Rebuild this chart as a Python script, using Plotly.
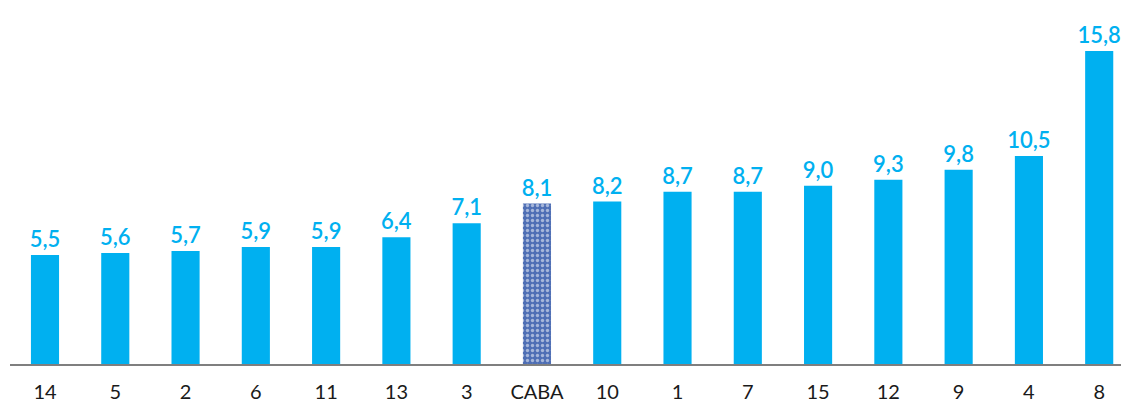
import plotly.graph_objects as go

categories = ["14", "5", "2", "6", "11", "13", "3", "CABA", "10", "1", "7", "15", "12", "9", "4", "8"]
values = [5.5, 5.6, 5.7, 5.9, 5.9, 6.4, 7.1, 8.1, 8.2, 8.7, 8.7, 9.0, 9.3, 9.8, 10.5, 15.8]
labels = [f"{v:.1f}".replace(".", ",") for v in values]

BLUE = "#00B0F0"
colors = ["#4F6FB5" if c == "CABA" else BLUE for c in categories]
shapes = ["." if c == "CABA" else "" for c in categories]

fig = go.Figure(go.Bar(
    x=list(range(len(categories))),
    y=values,
    text=labels,
    textposition="outside",
    constraintext="none",
    textfont=dict(family="Lato", size=22, color=BLUE, weight=600),
    marker=dict(
        color=colors,
        line=dict(width=0),
        pattern=dict(shape=shapes, fgcolor="#A9BBE3", bgcolor="#3C5CA6", size=5, solidity=0.35),
    ),
    cliponaxis=False,
    width=0.4,
))

fig.update_layout(
    width=1121, height=400,
    margin=dict(l=2, r=0, t=0, b=44),
    paper_bgcolor="white", plot_bgcolor="white",
    showlegend=False,
    uniformtext=dict(minsize=22, mode="show"),
    xaxis=dict(
        tickmode="array", tickvals=list(range(len(categories))), ticktext=categories,
        range=[-0.498, 15.424],
        showgrid=False, zeroline=False,
        showline=True, linecolor="#7F7F7F", linewidth=1.5,
        ticks="outside", ticklen=9, tickcolor="rgba(0,0,0,0)",
        tickfont=dict(family="Lato", size=20, color="#1A1A1A"),
    ),
    yaxis=dict(range=[0, 17.97], visible=False, showgrid=False, zeroline=False),
)

fig.write_html("out.html")
